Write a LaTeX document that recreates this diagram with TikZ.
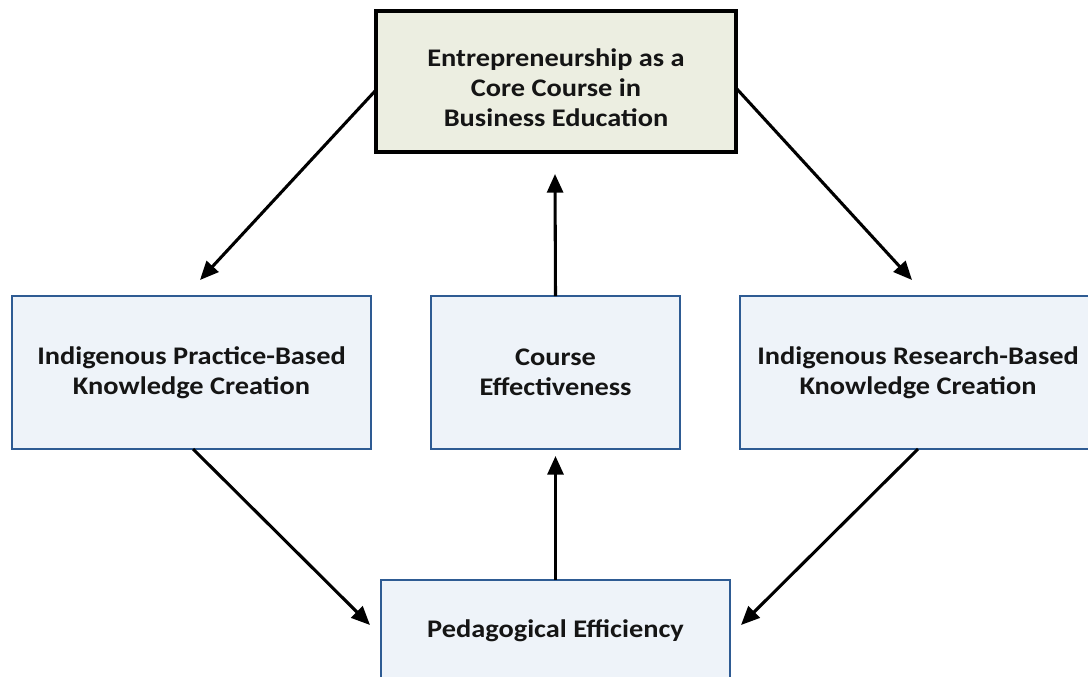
\documentclass[tikz,border=0pt]{standalone}
\usepackage{fontspec}
\setmainfont{Carlito}[FakeStretch=1.12]
\usetikzlibrary{arrows.meta,calc}
\definecolor{topfill}{HTML}{ECEEE1}
\definecolor{boxfill}{HTML}{EEF3F9}
\definecolor{boxline}{HTML}{2E5B93}
\definecolor{ink}{HTML}{151515}
\begin{document}
\begin{tikzpicture}[x=0.75pt,y=-0.75pt,
  every node/.style={inner sep=0pt,outer sep=0pt},
  lbl/.style={align=center,text=ink,font=\fontsize{19}{22.5}\selectfont\bfseries},
  corebox/.style={draw=black,line width=2.4pt,fill=topfill},
  bluebox/.style={draw=boxline,line width=1.8pt,fill=boxfill},
  arr/.style={draw=black,line width=2.3pt,-{Triangle[length=14pt,width=12pt]}}]
\useasboundingbox (0,0) rectangle (1088,676);
\clip (0,0) rectangle (1088,676);

% core course box
\node[corebox,minimum width=360*0.75pt,minimum height=141*0.75pt] (core) at (556,81.5) {};
\node[lbl] (coreText) at (556,88) {Entrepreneurship as a\\Core Course in\\Business Education};

% knowledge creation and effectiveness boxes
\node[bluebox,minimum width=359*0.75pt,minimum height=153*0.75pt,lbl] (practice) at (191.5,372.5)
  {Indigenous Practice-Based\\Knowledge Creation};
\node[bluebox,minimum width=249*0.75pt,minimum height=153*0.75pt,lbl] (effect) at (555.5,372.5)
  {Course\\Effectiveness};
\node[bluebox,minimum width=356*0.75pt,minimum height=153*0.75pt,lbl] (research) at (918,372.5)
  {Indigenous Research-Based\\Knowledge Creation};

% pedagogical efficiency box (runs off the lower edge)
\node[bluebox,minimum width=349*0.75pt,minimum height=102*0.75pt,lbl] (pedagogy) at (555.5,631)
  {Pedagogical Efficiency};

% connectors
\draw[arr] ($(core.west)+(0,8.5)$) -- ($(practice.north)+(8.5,-16)$);
\draw[arr] ($(core.east)+(0,6.5)$) -- ($(research.north)+(-6,-16)$);
\draw[arr] (effect.north) -- ($(core.south)+(-1,22)$);
\draw[arr] (pedagogy.north) -- ($(effect.south)+(0,7)$);
\draw[arr] ($(practice.south)+(1.5,0)$) -- ($(pedagogy.west)+(-11,-6)$);
\draw[arr] (research.south) -- ($(pedagogy.east)+(11,-6)$);
\end{tikzpicture}
\end{document}
